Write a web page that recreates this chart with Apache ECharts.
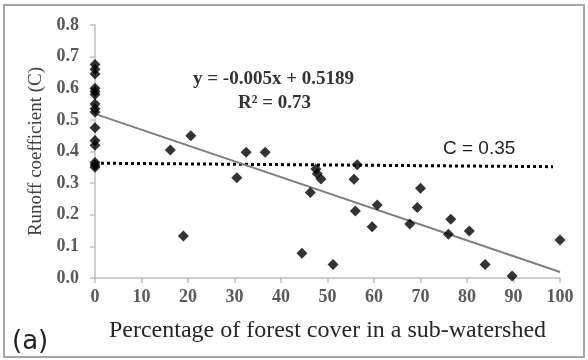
<!DOCTYPE html>
<html><head><meta charset="utf-8">
<script src="https://cdn.jsdelivr.net/npm/echarts@6/dist/echarts.min.js"></script>
<style>html,body{margin:0;padding:0;background:#fff}#c{width:588px;height:360px}</style>
</head><body><div id="c"></div>
<script>
// forest cover (%) and runoff coefficient C
const forestCover = [0,0,0,0,0,0,0,0,0,0,0,0,0,0,0,
  16.2,20.6,19.0,30.5,32.5,36.6,44.5,46.3,47.5,47.8,48.6,51.2,55.7,56.0,56.4,59.6,60.7,67.7,69.3,70.0,76.0,76.5,80.5,83.9,89.7,100];
const runoffC = [0.675,0.66,0.645,0.60,0.59,0.58,0.55,0.535,0.525,0.475,0.435,0.42,0.365,0.357,0.35,
  0.405,0.45,0.133,0.317,0.398,0.398,0.078,0.27,0.345,0.33,0.313,0.043,0.312,0.212,0.358,0.162,0.231,0.171,0.223,0.284,0.138,0.186,0.149,0.043,0.006,0.12];
const trendSlope = -0.005, trendIntercept = 0.5189, trendX = [0, 100];
const thresholdX = [0, 98.5], thresholdY = [0.363, 0.352];
const xTicks = [0,10,20,30,40,50,60,70,80,90,100];
const yTicks = [0,0.1,0.2,0.3,0.4,0.5,0.6,0.7,0.8];

const chart = echarts.init(document.getElementById('c'));
const serif = '"Liberation Serif","DejaVu Serif",serif';
chart.setOption({
  animation:false,
  grid:{left:95,right:28,top:25,bottom:82,containLabel:false},
  xAxis:{type:'value',min:0,max:100,interval:10,
    axisLine:{show:true,lineStyle:{color:'#bfbfbf',width:1.5}},
    axisTick:{show:true,length:5,lineStyle:{color:'#bfbfbf',width:1.5}},
    splitLine:{show:false},
    axisLabel:{margin:10,fontFamily:serif,fontSize:18,fontWeight:'bold',color:'#595959'},
    name:'Percentage of forest cover in a sub-watershed',nameLocation:'middle',nameGap:41,
    nameTextStyle:{fontFamily:serif,fontSize:24,color:'#262626'}},
  yAxis:{type:'value',min:0,max:0.8,interval:0.1,
    axisLine:{show:true,lineStyle:{color:'#bfbfbf',width:1.5}},
    axisTick:{show:true,length:5,lineStyle:{color:'#bfbfbf',width:1.5}},
    splitLine:{show:false},
    axisLabel:{margin:16,fontFamily:serif,fontSize:18,fontWeight:'bold',color:'#595959',formatter:v=>v.toFixed(1)},
    name:'Runoff coefficient (C)',nameLocation:'middle',nameGap:49,
    nameTextStyle:{fontFamily:serif,fontSize:19,color:'#404040'}},
  series:[
    {type:'line',data:thresholdX.map((x,i)=>[x,thresholdY[i]]),symbol:'none',
      lineStyle:{color:'#000',width:3,type:[3,3]},z:2},
    {type:'line',data:trendX.map(x=>[x,trendSlope*x+trendIntercept]),symbol:'none',
      lineStyle:{color:'#7f7f7f',width:2},z:3},
    {type:'scatter',data:forestCover.map((x,i)=>[x,runoffC[i]]),symbol:'diamond',symbolSize:11,
      itemStyle:{color:'#000'},z:4}
  ],
  graphic:[
    {type:'rect',shape:{x:4,y:5,width:580,height:352},style:{fill:'none',stroke:'#a6a6a6',lineWidth:2}},
    {type:'text',left:193,top:70,style:{text:'y = -0.005x + 0.5189',font:'bold 19px '+serif,fill:'#333'}},
    {type:'text',left:238,top:94,style:{text:'R² = 0.73',font:'bold 19px '+serif,fill:'#333'}},
    {type:'text',left:443,top:139,style:{text:'C = 0.35',font:'19px "Liberation Sans Narrow","Liberation Sans",sans-serif',fill:'#222'}},
    {type:'text',left:12,top:329,style:{text:'(a)',font:'26px "DejaVu Sans",sans-serif',fill:'#222'}}
  ]
});
</script></body></html>
